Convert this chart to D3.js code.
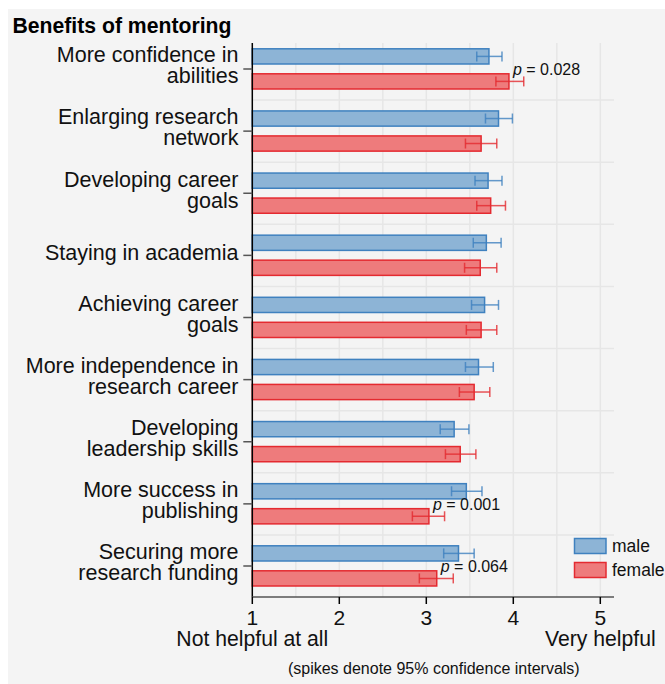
<!DOCTYPE html>
<html>
<head>
<meta charset="utf-8">
<script src="https://cdn.jsdelivr.net/npm/d3@7/dist/d3.min.js"></script>
<style>
  html, body { margin: 0; padding: 0; background: #ffffff; }
  svg { display: block; font-family: "Liberation Sans", Arial, Helvetica, sans-serif; }
</style>
</head>
<body>
<svg id="chart" width="665" height="684"></svg>
<script>
// Benefit categories (each entry is the list of label lines)
const categories = [
  ["More confidence in", "abilities"],
  ["Enlarging research", "network"],
  ["Developing career", "goals"],
  ["Staying in academia"],
  ["Achieving career", "goals"],
  ["More independence in", "research career"],
  ["Developing", "leadership skills"],
  ["More success in", "publishing"],
  ["Securing more", "research funding"]
];

// Mean ratings and 95% confidence limits
const maleMean   = [3.72, 3.83, 3.71, 3.69, 3.67, 3.60, 3.32, 3.46, 3.37];
const maleLow    = [3.58, 3.68, 3.56, 3.54, 3.52, 3.45, 3.16, 3.29, 3.20];
const maleHigh   = [3.87, 3.99, 3.87, 3.86, 3.83, 3.77, 3.49, 3.64, 3.55];
const femaleMean = [3.95, 3.63, 3.74, 3.62, 3.63, 3.55, 3.39, 3.03, 3.12];
const femaleLow  = [3.80, 3.45, 3.58, 3.44, 3.46, 3.38, 3.22, 2.84, 2.92];
const femaleHigh = [4.12, 3.81, 3.91, 3.81, 3.81, 3.73, 3.57, 3.21, 3.31];

// p-values shown for the significant / near-significant differences
const pValues = ["0.028", null, null, null, null, null, null, "0.001", "0.064"];

// Axis ticks and their descriptive second lines
const tickValues = [1, 2, 3, 4, 5];
const tickNotes  = ["Not helpful at all", "", "", "", "Very helpful"];

const seriesNames = ["male", "female"];

const colors = {
  male:   { fill: "#8db4d6", stroke: "#3f81bf" },
  female: { fill: "#ee7b7c", stroke: "#e42a30" }
};

const svg = d3.select("#chart");
const W = 665, H = 684;

// panel background
svg.append("rect").attr("x", 8).attr("y", 9).attr("width", W - 8).attr("height", H - 9)
  .attr("fill", "#f4f4f4");

// plot geometry
const plotTop = 43, plotBottom = 597, axisEnd = 614;
const x = d3.scaleLinear().domain([1, 5]).range([252.3, 600.3]);
const y = d3.scalePoint().domain(d3.range(categories.length)).range([69, 566]);
const step = y.step();
const offset = { male: -12.6, female: 12.4 };
const barH = 15.2;

// gridlines
const grid = svg.append("g");
d3.range(1.5, 5.01, 0.5).forEach(v => {
  grid.append("line")
    .attr("x1", x(v)).attr("x2", x(v))
    .attr("y1", plotTop).attr("y2", plotBottom)
    .attr("stroke", "#e6e6e6").attr("stroke-width", 1.5);
});
d3.range(categories.length - 1).forEach(i => {
  const yy = y(i) + step / 2;
  grid.append("line")
    .attr("x1", x(1)).attr("x2", axisEnd)
    .attr("y1", yy).attr("y2", yy)
    .attr("stroke", "#e6e6e6").attr("stroke-width", 1.5);
});

// table of series rows
const rows = [];
categories.forEach((c, i) => {
  rows.push({ i, s: "male", mean: maleMean[i], lo: maleLow[i], hi: maleHigh[i] });
  rows.push({ i, s: "female", mean: femaleMean[i], lo: femaleLow[i], hi: femaleHigh[i] });
});

// bars
svg.append("g").selectAll("rect").data(rows).join("rect")
  .attr("x", x(1))
  .attr("y", d => y(d.i) + offset[d.s] - barH / 2)
  .attr("width", d => x(d.mean) - x(1))
  .attr("height", barH)
  .attr("fill", d => colors[d.s].fill)
  .attr("stroke", d => colors[d.s].stroke)
  .attr("stroke-width", 1.5);

// confidence-interval spikes
const ci = svg.append("g").selectAll("g").data(rows).join("g")
  .attr("stroke", d => colors[d.s].stroke)
  .attr("stroke-opacity", 0.8)
  .attr("stroke-width", 1.5)
  .attr("fill", "none");
ci.append("line")
  .attr("x1", d => x(d.lo)).attr("x2", d => x(d.hi))
  .attr("y1", d => y(d.i) + offset[d.s]).attr("y2", d => y(d.i) + offset[d.s]);
ci.append("line")
  .attr("x1", d => x(d.lo)).attr("x2", d => x(d.lo))
  .attr("y1", d => y(d.i) + offset[d.s] - 5).attr("y2", d => y(d.i) + offset[d.s] + 5);
ci.append("line")
  .attr("x1", d => x(d.hi)).attr("x2", d => x(d.hi))
  .attr("y1", d => y(d.i) + offset[d.s] - 5).attr("y2", d => y(d.i) + offset[d.s] + 5);

// p-value annotations
const pLab = svg.append("g").selectAll("text")
  .data(pValues.map((p, i) => ({ p, i })).filter(d => d.p))
  .join("text")
  .attr("x", d => x(femaleMean[d.i]) + 4)
  .attr("y", d => y(d.i) + 5.7)
  .attr("font-size", 16)
  .attr("fill", "#111");
pLab.append("tspan").attr("font-style", "italic").text("p");
pLab.append("tspan").text(d => " = " + d.p);

// y axis
svg.append("line").attr("x1", x(1)).attr("x2", x(1))
  .attr("y1", plotTop).attr("y2", plotBottom)
  .attr("stroke", "#000").attr("stroke-width", 1.5);
const yl = svg.append("g").selectAll("g").data(categories).join("g");
yl.append("line")
  .attr("x1", x(1) - 9).attr("x2", x(1))
  .attr("y1", (d, i) => y(i)).attr("y2", (d, i) => y(i))
  .attr("stroke", "#555").attr("stroke-width", 1.5);
yl.append("text")
  .attr("text-anchor", "end")
  .attr("font-size", 21.5)
  .attr("fill", "#111")
  .each(function(d, i) {
    const t = d3.select(this);
    const base = d.length === 1 ? y(i) + 5 : y(i) - 6.7;
    d.forEach((line, k) => {
      t.append("tspan").attr("x", 238.5).attr("y", base + k * 21).text(line);
    });
  });

// x axis
svg.append("line").attr("x1", x(1)).attr("x2", axisEnd)
  .attr("y1", plotBottom).attr("y2", plotBottom)
  .attr("stroke", "#555").attr("stroke-width", 1.5);
const xt = svg.append("g").selectAll("g").data(tickValues).join("g");
xt.append("line")
  .attr("x1", d => x(d)).attr("x2", d => x(d))
  .attr("y1", plotBottom).attr("y2", plotBottom + 7)
  .attr("stroke", "#000").attr("stroke-width", 1.5);
xt.append("text")
  .attr("x", d => x(d)).attr("y", 625)
  .attr("text-anchor", "middle").attr("font-size", 21).attr("fill", "#111")
  .text(d => d);
xt.append("text")
  .attr("x", d => x(d)).attr("y", 646)
  .attr("text-anchor", "middle").attr("font-size", 21.2).attr("fill", "#111")
  .text((d, i) => tickNotes[i]);

// title
svg.append("text").attr("x", 12.5).attr("y", 33.3)
  .attr("font-size", 21.2).attr("font-weight", "bold").attr("fill", "#000")
  .text("Benefits of mentoring");

// note
svg.append("text").attr("x", (288.3 + 579.3) / 2).attr("y", 674)
  .attr("text-anchor", "middle").attr("font-size", 16).attr("fill", "#111")
  .text("(spikes denote 95% confidence intervals)");

// legend
const lg = svg.append("g").selectAll("g").data(seriesNames).join("g")
  .attr("transform", (d, i) => `translate(574.5, ${538.5 + i * 24})`);
lg.append("rect").attr("width", 31.5).attr("height", 15)
  .attr("fill", d => colors[d].fill).attr("stroke", d => colors[d].stroke).attr("stroke-width", 1.5);
lg.append("text").attr("x", 37.5).attr("y", 13.5)
  .attr("font-size", 17.5).attr("fill", "#111").text(d => d);
</script>
</body>
</html>
